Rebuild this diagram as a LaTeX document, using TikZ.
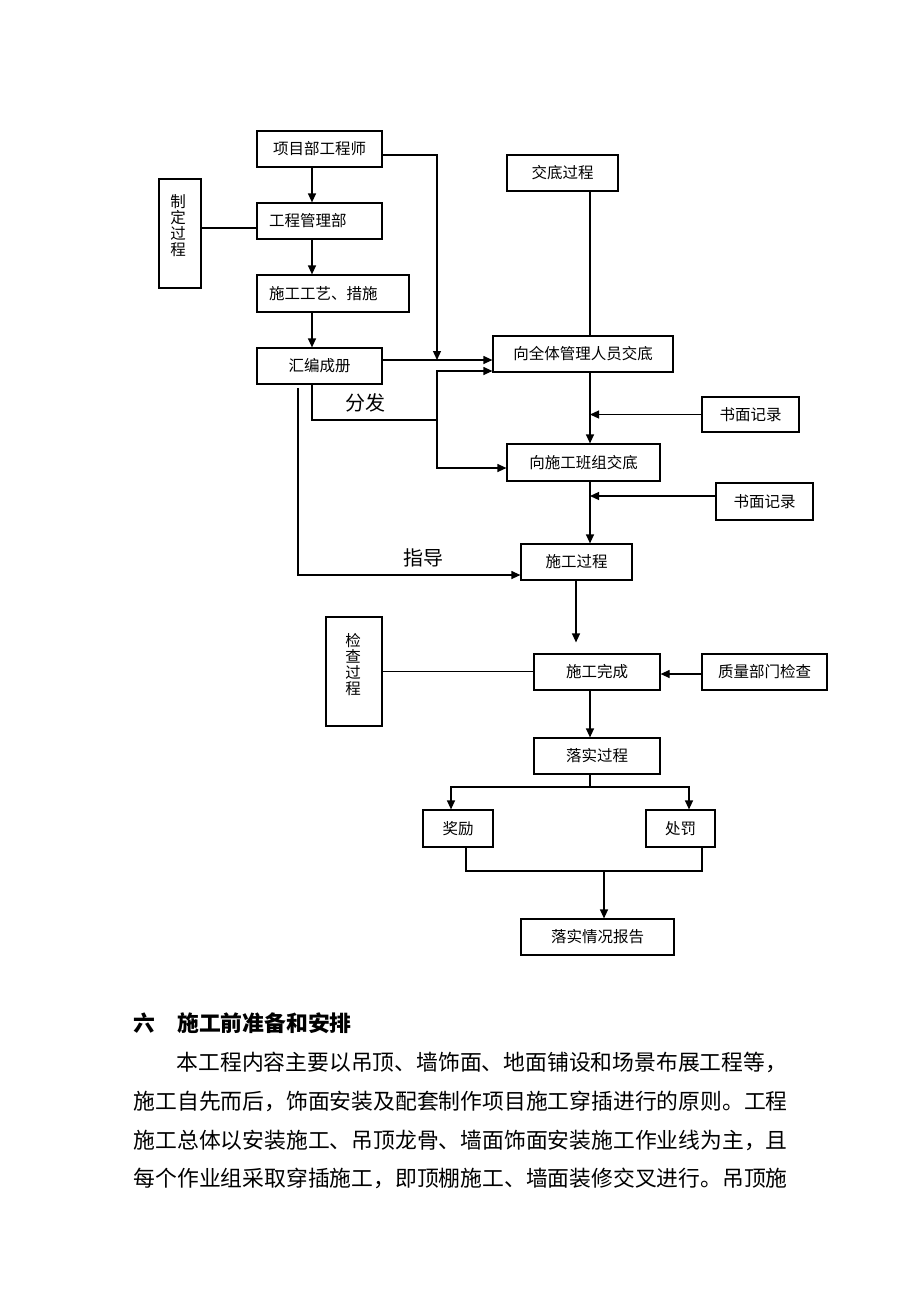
\documentclass[tikz,border=0pt]{standalone}
\usepackage{fontspec}
\usepackage{tikz}
\usetikzlibrary{arrows.meta}
\newfontfamily\cjk{Noto Sans CJK SC}
\def\darr{\draw[-{Triangle[length=9pt,width=8pt]}]}
\tikzset{
  blk/.style={draw, inner sep=0pt, minimum height=36pt,
    font=\cjk\fontsize{15.5}{16}\selectfont},
  lblk/.style={blk, inner xsep=12pt, text width=#1, align=left},
  vblk/.style={draw, minimum width=42pt, minimum height=109pt},
  vtxt/.style={inner sep=0pt, align=center,
    font=\cjk\fontsize{15.5}{16}\selectfont},
  tag/.style={inner sep=0pt, font=\cjk\fontsize{20}{22}\selectfont},
  para/.style={anchor=west, inner sep=0pt,
    font=\cjk\fontsize{21.8}{24}\selectfont}
}

\begin{document}
\begin{tikzpicture}[x=1pt, y=-1pt, line width=1.2pt]
                \useasboundingbox (0,0) rectangle (920,1302);
                % columns and joints
                \coordinate (colA) at (312,0);
                \coordinate (colB) at (437,0);
                \coordinate (colC) at (590,0);
                \coordinate (colD) at (576,0);
                \coordinate (jA) at (437,360);
                \coordinate (jB) at (437,420);
                \coordinate (jC) at (590,787);
                \coordinate (jD) at (604,871);
                \coordinate (zdS) at (298,388);
                % boxes
                \node[blk, minimum width=125pt] (xmgcs) at (319.5,149) {项目部工程师};
                \node[lblk=101pt] (gcglb) at (319.5,221) {工程管理部};
                \node[lblk=128pt, minimum height=37pt] (sggy) at (333,293.5) {施工工艺、措施};
                \node[blk, minimum width=125pt] (hbcc) at (319.5,366) {汇编成册};
                \node[vblk] (zdgc) at (180,233.5) {};
                \node[vtxt] (zdgcT) at (178,225.5) {制\\定\\过\\程};
                \node[blk, minimum width=111pt] (jdgc) at (562.5,173) {交底过程};
                \node[blk, minimum width=180pt] (qtjd) at (583,354) {向全体管理人员交底};
                \node[blk, minimum width=97pt, minimum height=35pt] (smjlA) at (750.5,414.5) {书面记录};
                \node[blk, minimum width=153pt, minimum height=37pt] (bzjd) at (583.5,462.5) {向施工班组交底};
                \node[blk, minimum width=97pt, minimum height=37pt] (smjlB) at (764.5,501.5) {书面记录};
                \node[blk, minimum width=111pt] (sggc) at (576.5,562) {施工过程};
                \node[blk, minimum width=126pt] (sgwc) at (597,672) {施工完成};
                \node[blk, minimum width=125pt] (zlbm) at (764.5,672) {质量部门检查};
                \node[vblk, minimum width=56pt] (jcgc) at (354,671.5) {};
                \node[vtxt] (jcgcT) at (353,664.5) {检\\查\\过\\程};
                \node[blk, minimum width=126pt] (lsgc) at (597,756) {落实过程};
                \node[blk, minimum width=70pt, minimum height=37pt] (jl) at (458,828.5) {奖励};
                \node[blk, minimum width=69pt, minimum height=37pt] (cf) at (680.5,828.5) {处罚};
                \node[blk, minimum width=153pt] (lsbg) at (597.5,937) {落实情况报告};
                % left chain
                \darr (colA |- xmgcs.south) -- (colA |- gcglb.north);
                \darr (colA |- gcglb.south) -- (colA |- sggy.north);
                \darr (colA |- sggy.south) -- (colA |- hbcc.north);
                \draw ([yshift=-7pt]gcglb.west) -- ([yshift=-7pt]gcglb.west -| zdgc.east);
                \darr ([yshift=-6pt]xmgcs.east) -| (jA);
                \darr ([yshift=6pt]hbcc.east) -- ([yshift=6pt]hbcc.east -| qtjd.west);
                \draw (colA |- hbcc.south) |- (jB);
                \darr (jB) |- ([yshift=-17pt]qtjd.west);
                \darr (jB) |- ([yshift=-5.5pt]bzjd.west);
                \node[tag] (ff) at (365,403) {分发};
                \darr (zdS) |- ([yshift=-13pt]sggc.west);
                \node[tag] (zd) at (423,558) {指导};
                % right chain
                \draw (colC |- jdgc.south) -- (colC |- qtjd.north);
                \darr (colC |- qtjd.south) -- (colC |- bzjd.north);
                \darr (smjlA.west) -- (colC |- smjlA.west);
                \darr (colC |- bzjd.south) -- (colC |- sggc.north);
                \darr ([yshift=5.5pt]smjlB.west) -- ([yshift=5.5pt]smjlB.west -| colC);
                \darr[shorten >=11pt] (colD |- sggc.south) -- (colD |- sgwc.north);
                \darr ([yshift=-2pt]zlbm.west) -- ([yshift=-2pt]sgwc.east);
                \draw (jcgc.east) -- (jcgc.east -| sgwc.west);
                \darr (colC |- sgwc.south) -- (colC |- lsgc.north);
                \draw (colC |- lsgc.south) -- (jC);
                \darr (jC) -| ([xshift=-7pt]jl.north);
                \darr (jC) -| ([xshift=8.5pt]cf.north);
                \draw ([xshift=8pt]jl.south) |- ([xshift=21.5pt]cf.south |- jD) -- ([xshift=21.5pt]cf.south);
                \darr (jD) -- ([xshift=6.5pt]lsbg.north);
                % text below
                \node[para, font=\cjk\bfseries\fontsize{21.8}{24}\selectfont] (hd) at (133,1023) {六\hspace{1em}施工前准备和安排};
                \node[para] (lnA) at (176,1062) {本工程内容主要以吊顶、墙饰面、地面铺设和场景布展工程等，};
                \node[para] (lnB) at (133,1101) {施工自先而后，饰面安装及配套制作项目施工穿插进行的原则。工程};
                \node[para] (lnC) at (133,1140) {施工总体以安装施工、吊顶龙骨、墙面饰面安装施工作业线为主，且};
                \node[para] (lnD) at (133,1178) {每个作业组采取穿插施工，即顶棚施工、墙面装修交叉进行。吊顶施};
            \end{tikzpicture}
\end{document}
